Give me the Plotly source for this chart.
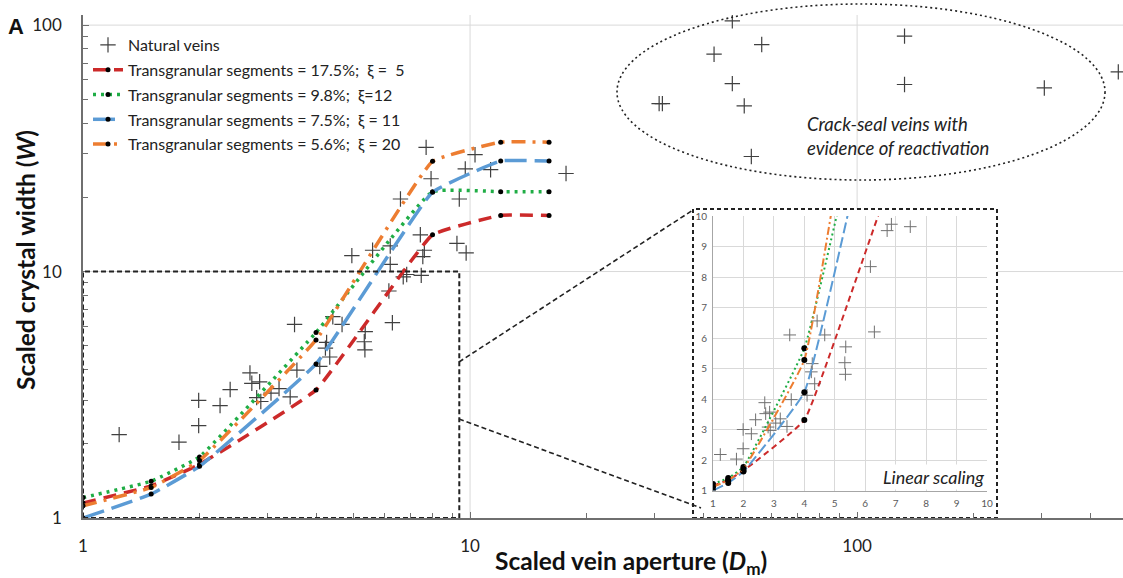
import plotly.graph_objects as go

# ---------------- data ----------------
# Natural veins (scaled vein aperture Dm, scaled crystal width W)
vein_x = [1.24, 1.77, 1.99, 1.99, 2.26, 2.40, 2.70, 2.73, 2.86, 2.81, 2.88, 3.06, 3.21, 3.43,
          3.52, 3.57, 4.09, 4.23, 4.26, 4.34, 4.42, 4.67, 5.33, 5.36, 5.35, 6.17, 6.30, 6.72,
          6.86, 7.48,
          4.95, 5.60, 6.22, 6.22, 6.61, 7.44, 7.62, 7.55, 7.70, 7.93, 9.25, 9.77, 9.38, 9.72,
          10.3, 11.3, 17.7,
          30.8, 31.4, 42.7, 47.6, 47.6, 51.1, 53.3, 56.7, 132.6, 132.6, 304.6, 473.0]
vein_y = [2.18, 2.03, 3.00, 2.37, 2.86, 3.32, 3.88, 3.52, 3.57, 3.08, 2.97, 3.21, 3.35, 3.10,
          6.10, 3.98, 4.12, 4.89, 5.16, 4.50, 6.56, 6.10, 5.19, 5.71, 4.81, 8.34, 6.20, 9.52,
          9.73, 9.65,
          11.6, 12.2, 12.7, 10.7, 19.7, 14.1, 12.2, 11.5, 31.9, 23.8, 13.0, 11.9, 19.7, 26.1,
          29.8, 25.9, 25.0,
          48.0, 48.0, 76.2, 104.0, 57.9, 47.0, 29.3, 83.4, 90.2, 57.4, 55.6, 64.6]

# Model nodes
node_x = [1, 1.5, 2, 4, 8, 12, 16]
red_y = [1.15, 1.35, 1.65, 3.31, 14.1, 16.9, 16.9]      # 17.5 %, xi = 5
green_y = [1.21, 1.41, 1.77, 5.66, 21.1, 21.1, 21.1]    # 9.8 %, xi = 12
blue_y = [1.00, 1.25, 1.62, 4.22, 21.0, 28.1, 28.1]     # 7.5 %, xi = 11
orange_y = [1.12, 1.33, 1.71, 5.28, 28.0, 33.5, 33.5]   # 5.6 %, xi = 20

series_names = [
    "Transgranular segments = 17.5%;\u00a0 ξ =\u00a0 5",
    "Transgranular segments = 9.8%;\u00a0 ξ=12",
    "Transgranular segments = 7.5%;\u00a0 ξ = 11",
    "Transgranular segments = 5.6%;\u00a0 ξ = 20",
]
series_y = [red_y, green_y, blue_y, orange_y]
series_colors = ["#cc2a2a", "#1fad45", "#5b9bd5", "#ed7d31"]
main_dash = ["13px,8px", "3px,5px", "22px,8px", "14px,7px,3px,7px"]
inset_dash = ["6px,4px", "2px,3px", "11px,4px", "8px,3px,2px,3px"]

major_ticks = [1, 10, 100]
minor_x_ticks = [2, 3, 4, 5, 6, 7, 8, 9, 20, 30, 40, 50, 60, 70, 80, 90, 200, 300, 400]
minor_y_ticks = [2, 3, 4, 5, 6, 7, 8, 9, 20, 30, 40, 50, 60, 70, 80, 90]
grid_vals = [10, 100]
inset_ticks = list(range(1, 11))

FONT = "Lato, 'Open Sans', sans-serif"

fig = go.Figure()

# natural veins: main + inset
fig.add_trace(go.Scatter(
    x=vein_x, y=vein_y, mode="markers", name="Natural veins", legendgroup="veins",
    marker=dict(symbol="cross-thin", size=11, line=dict(width=1.2, color="#404040"), color="#404040"),
    xaxis="x", yaxis="y"))
fig.add_trace(go.Scatter(
    x=vein_x, y=vein_y, mode="markers", showlegend=False, legendgroup="veins",
    marker=dict(symbol="cross-thin", size=9, line=dict(width=1, color="#707070"), color="#707070"),
    xaxis="x2", yaxis="y2"))

for name, ys, col, dm, di in zip(series_names, series_y, series_colors, main_dash, inset_dash):
    fig.add_trace(go.Scatter(
        x=node_x, y=ys, mode="lines+markers", name=name, legendgroup=name,
        line=dict(color=col, width=3.5, dash=dm, shape="spline", smoothing=0.3),
        marker=dict(color="black", size=5),
        xaxis="x", yaxis="y"))
    fig.add_trace(go.Scatter(
        x=node_x, y=ys, mode="lines+markers", showlegend=False, legendgroup=name,
        line=dict(color=col, width=2, dash=di, shape="spline", smoothing=0.3),
        marker=dict(color="black", size=6),
        xaxis="x2", yaxis="y2"))

# ---------------- layout ----------------
W, H = 1123, 578
L, R, T, B = 83, 0, 15, 60
pw, ph = W - L - R, H - T - B
PLOT_BOTTOM = H - B
PLOT_LEFT = L


def px(xp):
    return (xp - PLOT_LEFT) / pw


def py(yp):
    return (PLOT_BOTTOM - yp) / ph


axis_common = dict(
    showgrid=False, zeroline=False,
    showline=True, linecolor="#6f6f6f", linewidth=1.5,
    ticks="inside", ticklen=6, tickcolor="#6f6f6f",
    tickfont=dict(size=17, color="#222", family=FONT),
)

fig.update_layout(
    width=W, height=H, autosize=False,
    margin=dict(l=L, r=R, t=T, b=B, autoexpand=False),
    paper_bgcolor="white", plot_bgcolor="white",
    font=dict(family=FONT, color="#222"),
    xaxis=dict(type="log", range=[0, 2.687], domain=[0, 1], anchor="y", automargin=False,
               tickvals=major_ticks, ticktext=[str(v) for v in major_ticks], ticklabelstandoff=12,
               minor=dict(ticks="inside", ticklen=5, tickcolor="#6f6f6f", tickvals=minor_x_ticks),
               **axis_common),
    yaxis=dict(type="log", range=[0, 2.041], domain=[0, 1], anchor="x", automargin=False,
               tickvals=major_ticks, ticktext=[str(v) for v in major_ticks], ticklabelstandoff=16,
               minor=dict(ticks="inside", ticklen=5, tickcolor="#6f6f6f", tickvals=minor_y_ticks),
               **axis_common),
    xaxis2=dict(range=[1, 10], domain=[px(713), px(987)], anchor="y2", automargin=False,
                tickvals=inset_ticks, showgrid=True, gridcolor="#d9d9d9", zeroline=False,
                showline=True, linecolor="#a6a6a6", linewidth=1, ticks="",
                tickfont=dict(size=10, color="#595959", family=FONT), ticklabelstandoff=3),
    yaxis2=dict(range=[1, 10], domain=[py(490.5), py(216)], anchor="x2", automargin=False,
                tickvals=inset_ticks, showgrid=True, gridcolor="#d9d9d9", zeroline=False,
                showline=True, linecolor="#a6a6a6", linewidth=1, ticks="",
                tickfont=dict(size=10, color="#595959", family=FONT), ticklabelstandoff=3),
    legend=dict(x=px(88), y=py(28), xanchor="left", yanchor="top",
                bgcolor="rgba(255,255,255,0)", borderwidth=0,
                font=dict(size=16, color="#222", family=FONT),
                tracegroupgap=1, itemwidth=30),
    showlegend=True,
)

shapes = []
# main grid lines (drawn as shapes so the inset box can hide them)
for g in grid_vals:
    shapes.append(dict(type="line", xref="x", yref="paper", layer="below",
                       x0=g, x1=g, y0=0, y1=1, line=dict(color="#d9d9d9", width=1)))
    shapes.append(dict(type="line", xref="paper", yref="y", layer="below",
                       x0=0, x1=1, y0=g, y1=g, line=dict(color="#d9d9d9", width=1)))
shapes += [
    # inset white box
    dict(type="rect", xref="paper", yref="paper", layer="below",
         x0=px(693), x1=px(997), y0=py(518), y1=py(209),
         fillcolor="white", line=dict(color="#222", width=2, dash="4px,3px")),
    # zoom rectangle on main plot
    dict(type="rect", xref="x", yref="y", layer="above",
         x0=1, x1=9.38, y0=1, y1=10,
         line=dict(color="#222", width=2, dash="5px,3px")),
    # connector lines
    dict(type="line", xref="paper", yref="paper", layer="above",
         x0=px(459), y0=py(362), x1=px(693), y1=py(210),
         line=dict(color="#222", width=1.6, dash="5px,3px")),
    dict(type="line", xref="paper", yref="paper", layer="above",
         x0=px(459), y0=py(419), x1=px(701), y1=py(508),
         line=dict(color="#222", width=1.6, dash="5px,3px")),
    # ellipse around crack-seal veins
    dict(type="circle", xref="paper", yref="paper", layer="above",
         x0=px(617), x1=px(1105), y0=py(180), y1=py(4),
         line=dict(color="#222", width=1.6, dash="2px,3px")),
]
fig.update_layout(shapes=shapes)

annotations = [
    dict(text="<b>A</b>", xref="paper", yref="paper", x=px(16), y=py(27),
         showarrow=False, font=dict(size=22, family="Liberation Sans, Arial", color="#111"),
         xanchor="center", yanchor="middle"),
    dict(text="<b>Scaled vein aperture (<i>D</i><sub>m</sub>)</b>", xref="paper", yref="paper",
         x=px(631), y=py(562), showarrow=False, font=dict(size=24.5, color="#111", family=FONT),
         xanchor="center", yanchor="middle"),
    dict(text="<b>Scaled crystal width (<i>W</i>)</b>", xref="paper", yref="paper",
         x=px(25), y=py(260), showarrow=False, textangle=-90,
         font=dict(size=24.5, color="#111", family=FONT), xanchor="center", yanchor="middle"),
    dict(text="<i>Crack-seal veins with<br>evidence of reactivation</i>", xref="paper", yref="paper",
         x=px(805), y=py(136), showarrow=False, align="left",
         font=dict(size=18.5, color="#222", family=FONT), xanchor="left", yanchor="middle"),
    dict(text="<i>Linear scaling</i>", xref="paper", yref="paper",
         x=px(986), y=py(477), showarrow=False, bgcolor="white",
         font=dict(size=18, color="#222", family=FONT), xanchor="right", yanchor="middle"),
]
fig.update_layout(annotations=annotations)

# remove the default 8px page margin so the figure sits at the page origin
fig.write_html(
    "out.html",
    config={"responsive": False, "displayModeBar": False},
    post_script="document.body.style.margin='0';document.body.style.overflow='hidden';",
)
